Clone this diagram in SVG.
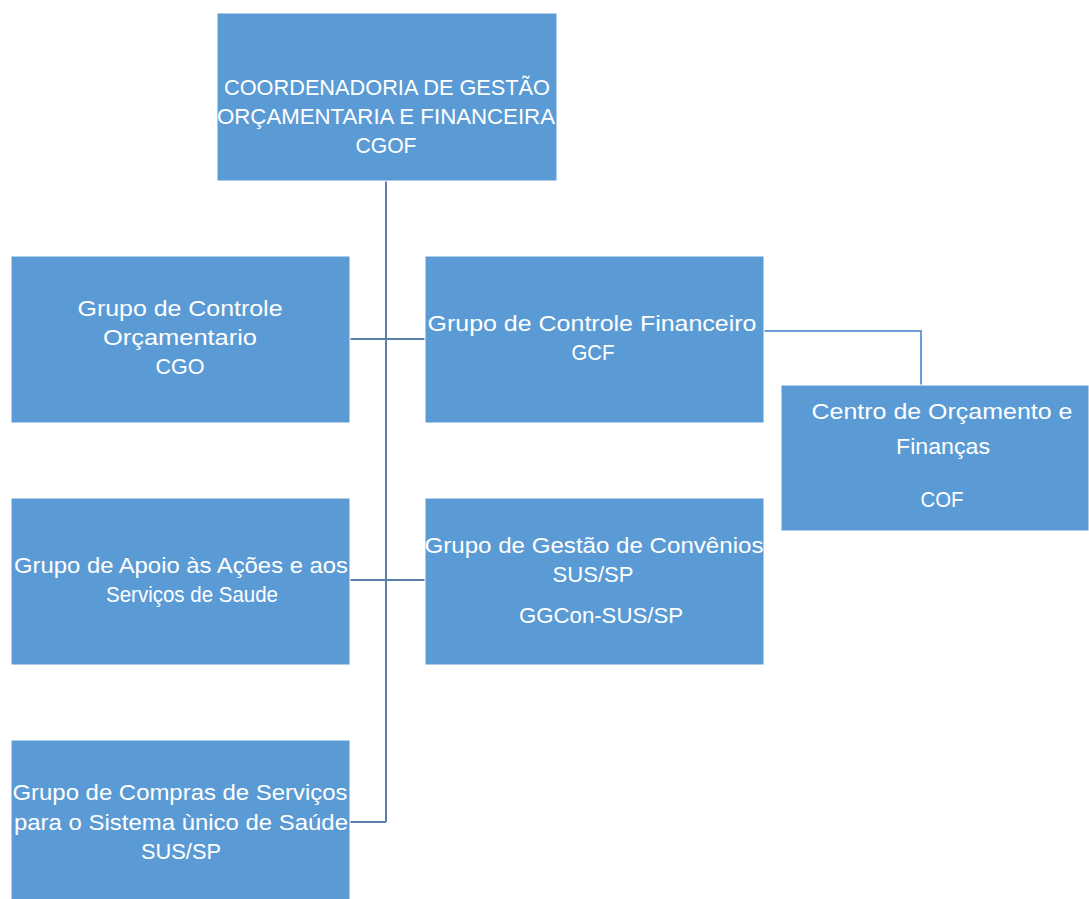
<svg xmlns="http://www.w3.org/2000/svg" width="1089" height="899" viewBox="0 0 1089 899">
<style>
.box{fill:#5B9BD5;stroke:#ffffff;stroke-width:1}
.t{font-family:"Liberation Sans",Arial,sans-serif;font-size:22px;fill:#ffffff;text-anchor:middle;dominant-baseline:central}
.c{fill:none;stroke:#5a80aa;stroke-width:2}
.c2{fill:none;stroke:#6a9fd6;stroke-width:2}
</style>
<rect width="1089" height="899" fill="#ffffff"/>
<g id="connectors">
<path class="c" d="M386 181V822M350 339H425M350 580H425M350 822H386"/>
<path class="c2" d="M764 331H921V385"/>
</g>
<g id="cgof">
<rect class="box" x="217" y="13" width="340" height="168"/>
<text class="t" x="387" y="87" textLength="326" lengthAdjust="spacingAndGlyphs">COORDENADORIA DE GESTÃO</text>
<text class="t" x="386" y="116" textLength="338" lengthAdjust="spacingAndGlyphs">ORÇAMENTARIA E FINANCEIRA</text>
<text class="t" x="386" y="145" textLength="61" lengthAdjust="spacingAndGlyphs">CGOF</text>
</g>
<g id="cgo">
<rect class="box" x="11" y="256" width="339" height="167"/>
<text class="t" x="180" y="308" textLength="205" lengthAdjust="spacingAndGlyphs">Grupo de Controle</text>
<text class="t" x="180" y="337" textLength="154" lengthAdjust="spacingAndGlyphs">Orçamentario</text>
<text class="t" x="180" y="366" textLength="49" lengthAdjust="spacingAndGlyphs">CGO</text>
</g>
<g id="gcf">
<rect class="box" x="425" y="256" width="339" height="167"/>
<text class="t" x="592" y="323" textLength="329" lengthAdjust="spacingAndGlyphs">Grupo de Controle Financeiro</text>
<text class="t" x="593" y="352" textLength="43" lengthAdjust="spacingAndGlyphs">GCF</text>
</g>
<g id="cof">
<rect class="box" x="781" y="385" width="308" height="146"/>
<text class="t" x="942" y="411" textLength="261" lengthAdjust="spacingAndGlyphs">Centro de Orçamento e</text>
<text class="t" x="943" y="446" textLength="94" lengthAdjust="spacingAndGlyphs">Finanças</text>
<text class="t" x="942" y="499" textLength="43" lengthAdjust="spacingAndGlyphs">COF</text>
</g>
<g id="apoio">
<rect class="box" x="11" y="498" width="339" height="167"/>
<text class="t" x="181" y="565" textLength="334" lengthAdjust="spacingAndGlyphs">Grupo de Apoio às Ações e aos</text>
<text class="t" x="192" y="594" textLength="172" lengthAdjust="spacingAndGlyphs">Serviços de Saude</text>
</g>
<g id="ggcon">
<rect class="box" x="425" y="498" width="339" height="167"/>
<text class="t" x="594" y="545" textLength="339" lengthAdjust="spacingAndGlyphs">Grupo de Gestão de Convênios</text>
<text class="t" x="593" y="574" textLength="81" lengthAdjust="spacingAndGlyphs">SUS/SP</text>
<text class="t" x="601" y="615" textLength="164" lengthAdjust="spacingAndGlyphs">GGCon-SUS/SP</text>
</g>
<g id="compras">
<rect class="box" x="11" y="740" width="339" height="165"/>
<text class="t" x="180" y="792" textLength="335" lengthAdjust="spacingAndGlyphs">Grupo de Compras de Serviços</text>
<text class="t" x="181" y="822" textLength="334" lengthAdjust="spacingAndGlyphs">para o Sistema ùnico de Saúde</text>
<text class="t" x="181" y="851" textLength="80" lengthAdjust="spacingAndGlyphs">SUS/SP</text>
</g>
</svg>
